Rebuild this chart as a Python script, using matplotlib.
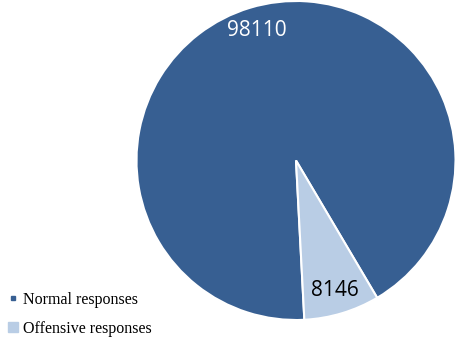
import matplotlib

matplotlib.use("Agg")

import matplotlib.pyplot as plt
from matplotlib.lines import Line2D

categories = ["Normal responses", "Offensive responses"]
counts = [98110, 8146]
colors = ["#375F92", "#B9CDE5"]
label_colors = ["white", "black"]

W, H, DPI = 461, 343, 100
fig = plt.figure(figsize=(W / DPI, H / DPI), dpi=DPI)
fig.patch.set_facecolor("white")

# pie centred near (296, 160.5) px, radius ~159.5 px
ax = fig.add_axes([136.5 / W, 23 / H, 319 / W, 319 / H])
total = sum(counts)
wedges, _, autotexts = ax.pie(
    counts,
    colors=colors,
    startangle=273,
    counterclock=False,
    autopct=lambda p: f"{round(p * total / 100)}",
    pctdistance=0.85,
    wedgeprops={"edgecolor": "white", "linewidth": 1.5},
    radius=1.0,
)
for t, c in zip(autotexts, label_colors):
    t.set_color(c)
    t.set_fontsize(15)
    t.set_family(["Open Sans", "DejaVu Sans"])
ax.set_xlim(-1.0, 1.0)
ax.set_ylim(-1.0, 1.0)
ax.set_aspect("equal")

handles = [
    Line2D([], [], ls="none", marker="s", markersize=2.5, color=colors[0]),
    Line2D([], [], ls="none", marker="s", markersize=6.5, color=colors[1]),
]
fig.legend(
    handles,
    categories,
    loc="lower left",
    bbox_to_anchor=(-6 / W, -8 / H),
    frameon=False,
    handlelength=0.6,
    handletextpad=0.3,
    labelspacing=0.8,
    prop={"family": "Liberation Serif", "size": 11.5},
)

fig.savefig("out.png", dpi=DPI)
